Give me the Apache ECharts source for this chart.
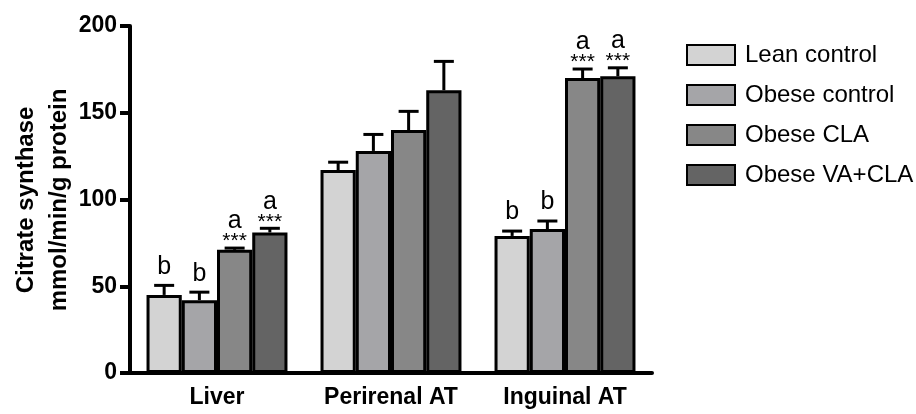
<!DOCTYPE html>
<html>
<head>
<meta charset="utf-8">
<script src="https://cdn.jsdelivr.net/npm/echarts@6/dist/echarts.min.js"></script>
<style>
  html, body { margin: 0; padding: 0; background: #fff; }
  #chart { width: 916px; height: 414px; }
</style>
</head>
<body>
<div id="chart"></div>
<script>
// Chart data
const tissues = ['Liver', 'Perirenal AT', 'Inguinal AT'];
const groupNames = ['Lean control', 'Obese control', 'Obese CLA', 'Obese VA+CLA'];
const groupColors = ['#d3d3d3', '#a5a5a8', '#878787', '#646464'];

const leanMean = [45, 117, 79];
const obeseMean = [42, 128, 83];
const claMean = [71, 140, 170];
const vaClaMean = [81, 163, 171];

const leanSem = [5.5, 4.5, 2.8];
const obeseSem = [4.6, 9.5, 4.6];
const claSem = [1, 10.8, 5.2];
const vaClaSem = [2.4, 16.6, 4.9];

// significance letters and stars above each bar
const leanLetter = ['b', '', 'b'];
const obeseLetter = ['b', '', 'b'];
const claLetter = ['a', '', 'a'];
const vaClaLetter = ['a', '', 'a'];
const leanStars = ['', '', ''];
const obeseStars = ['', '', ''];
const claStars = ['***', '', '***'];
const vaClaStars = ['***', '', '***'];

const yTicks = [0, 50, 100, 150, 200];

const FONT = '"Liberation Sans", Arial, Helvetica, sans-serif';
const CAT_GAP = 0.19;

const means = [leanMean, obeseMean, claMean, vaClaMean];
const sems = [leanSem, obeseSem, claSem, vaClaSem];
const letters = [leanLetter, obeseLetter, claLetter, vaClaLetter];
const stars = [leanStars, obeseStars, claStars, vaClaStars];

// rows for the error bar series: [tissue, group, mean, sem, letter, stars]
const errRows = [];
means.forEach((m, g) => {
  m.forEach((v, c) => {
    errRows.push([c, g, v, sems[g][c], letters[g][c], stars[g][c]]);
  });
});

const chart = echarts.init(document.getElementById('chart'));

const barSeries = groupNames.map((name, g) => ({
  name: name,
  type: 'bar',
  data: means[g],
  barGap: '0%',
  barCategoryGap: (CAT_GAP * 100) + '%',
  itemStyle: { color: groupColors[g], borderColor: '#000', borderWidth: 3 },
  z: 2
}));

const errSeries = {
  type: 'custom',
  data: errRows,
  z: 3,
  silent: true,
  renderItem: (params, api) => {
    const cat = api.value(0);
    const g = api.value(1);
    const mean = api.value(2);
    const err = api.value(3);
    const letter = errRows[params.dataIndex][4];
    const star = errRows[params.dataIndex][5];
    const band = api.size([1, 0])[0];
    const bw = band * (1 - CAT_GAP) / 4;
    const base = api.coord([cat, mean]);
    const x = base[0] + (g - 1.5) * bw;
    const top = api.coord([cat, mean + err])[1];
    const kids = [
      { type: 'line', shape: { x1: x, y1: base[1], x2: x, y2: top },
        style: { stroke: '#000', lineWidth: 3 } },
      { type: 'line', shape: { x1: x - 10, y1: top, x2: x + 10, y2: top },
        style: { stroke: '#000', lineWidth: 3 } }
    ];
    let letterY = top - 6;
    if (star) {
      kids.push({ type: 'text', style: { text: star, x: x, y: top + 4,
        textAlign: 'center', textVerticalAlign: 'bottom',
        font: '21px ' + FONT, fill: '#000' } });
      letterY = top - 14;
    }
    if (letter) {
      kids.push({ type: 'text', style: { text: letter, x: x, y: letterY,
        textAlign: 'center', textVerticalAlign: 'bottom',
        font: '25px ' + FONT, fill: '#000' } });
    }
    return { type: 'group', children: kids };
  }
};

const option = {
  animation: false,
  backgroundColor: '#fff',
  grid: { left: 130, right: 264, top: 26, bottom: 41 },
  legend: {
    data: groupNames,
    orient: 'vertical',
    left: 681,
    top: 38,
    itemWidth: 48,
    itemHeight: 20,
    itemGap: 16,
    icon: 'rect',
    textStyle: { fontFamily: FONT, fontSize: 24, color: '#000', padding: [0, 0, 0, 5] }
  },
  xAxis: {
    type: 'category',
    data: tissues,
    axisLine: { lineStyle: { color: '#000', width: 4 } },
    axisTick: { show: false },
    axisLabel: { color: '#000', fontFamily: FONT, fontSize: 23, fontWeight: 'bold', margin: 13 }
  },
  yAxis: {
    type: 'value',
    min: yTicks[0],
    max: yTicks[yTicks.length - 1],
    interval: yTicks[1] - yTicks[0],
    axisLine: { show: true, lineStyle: { color: '#000', width: 4 } },
    axisTick: { show: true, length: 10, lineStyle: { color: '#000', width: 4 } },
    axisLabel: { color: '#000', fontFamily: FONT, fontSize: 23, fontWeight: 'bold', margin: 13 },
    splitLine: { show: false }
  },
  graphic: [{
    type: 'text',
    x: 43,
    y: 200,
    rotation: Math.PI / 2,
    style: {
      text: 'Citrate synthase\nmmol/min/g protein',
      x: 0,
      y: 0,
      textAlign: 'center',
      textVerticalAlign: 'middle',
      font: 'bold 24px ' + FONT,
      lineHeight: 33,
      fill: '#000'
    }
  }],
  series: barSeries.concat([errSeries])
};

chart.setOption(option);
</script>
</body>
</html>
